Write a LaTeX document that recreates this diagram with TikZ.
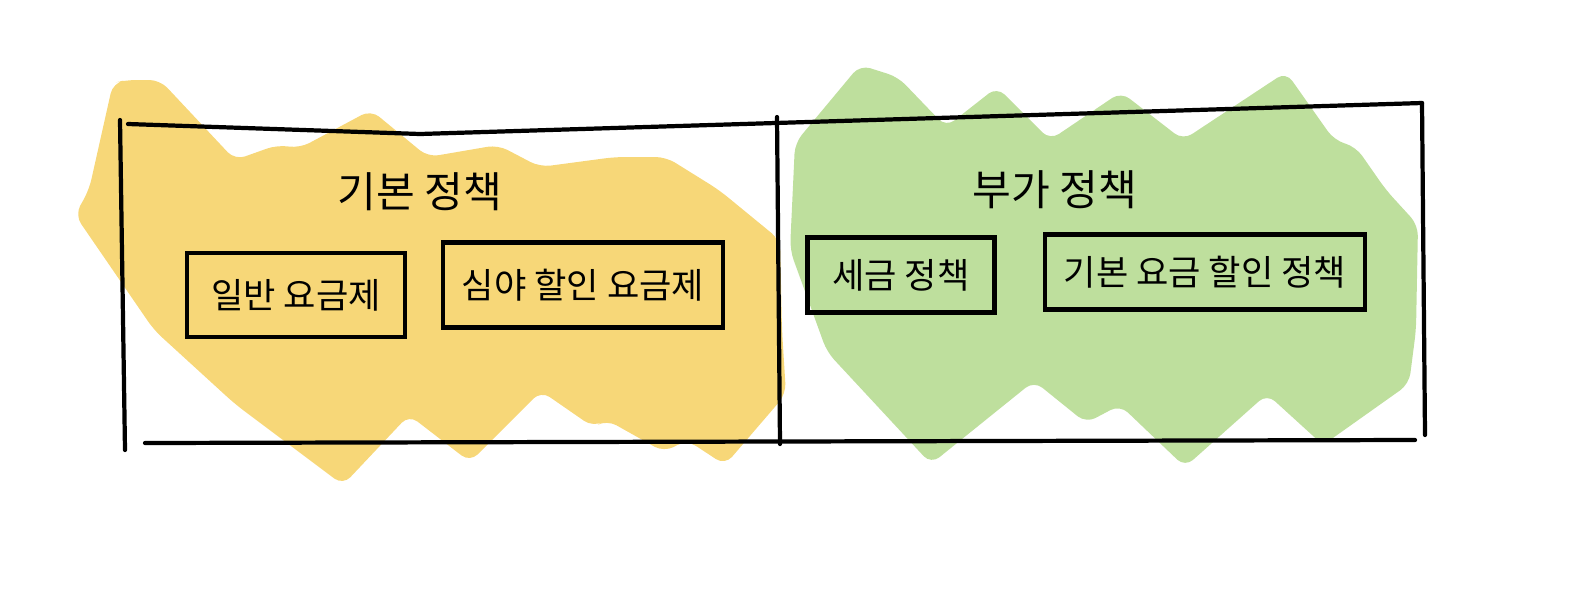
\documentclass[tikz,border=0pt]{standalone}
\usepackage{fontspec}
\newfontfamily\kofont{Noto Sans CJK KR}
\usetikzlibrary{positioning}
\definecolor{basicyellow}{HTML}{F6D46C}
\definecolor{extragreen}{HTML}{B9DC95}
\tikzset{%
    policy/.style={draw=black,line width=2.4pt,inner xsep=4pt,minimum height=15mm,font=\kofont\fontsize{20}{24}\selectfont},
    title/.style={font=\kofont\fontsize{24}{28}\selectfont},
    frame/.style={line width=2.4pt,line cap=round,line join=round}
}

\begin{document}
\begin{tikzpicture}[x=0.2mm,y=-0.2mm]
        \useasboundingbox (0,0) rectangle (1581,595);

        % brush blobs
        \fill[basicyellow,opacity=0.92,rounded corners=6pt]
            (89,190) -- (113,83) -- (126,80) -- (160,80) -- (235,160)
            -- (277,145) -- (300,148) -- (371,110) -- (428,157) -- (498,145)
            -- (540,167) -- (615,157) -- (666,157) -- (719,190) -- (780,240)
            -- (782,330) -- (786,394) -- (725,465) -- (687,440) -- (664,452)
            -- (607,420) -- (593,427) -- (541,391) -- (470,462) -- (409,415)
            -- (343,485) -- (235,404) -- (154,330) -- (75,215) -- cycle;
        \fill[extragreen,opacity=0.92,rounded corners=6pt]
            (795,143) -- (860,65) -- (898,77) -- (946,127) -- (997,87)
            -- (1050,140) -- (1121,92) -- (1183,140) -- (1286,72) -- (1334,140)
            -- (1356,147) -- (1386,190) -- (1418,225) -- (1416,330) -- (1409,384)
            -- (1323,445) -- (1267,394) -- (1185,467) -- (1120,405) -- (1086,423)
            -- (1034,381) -- (931,464) -- (827,352) -- (790,250) -- cycle;

        % frame
        \coordinate (tl) at (128,124);
        \coordinate (tm) at (420,134);
        \coordinate (tr) at (1422,103);
        \coordinate (ul) at (120,120);
        \coordinate (ll) at (125,450);
        \coordinate (bl) at (145,443);
        \coordinate (br) at (1415,440);
        \coordinate (rt) at (1422,103);
        \coordinate (rb) at (1425,435);
        \coordinate (dt) at (777,117);
        \coordinate (db) at (780,444);

        \draw[frame] (tl) -- (tm) -- (tr);
        \draw[frame] (ul) -- (ll);
        \draw[frame] (bl) -- (br);
        \draw[frame] (rt) -- (rb);
        \draw[frame] (dt) -- (db);

        % basic side
        \node[title] (basic) at (420,192) {기본 정책};
        \node[policy,minimum width=43.6mm,minimum height=16.8mm] (normal) at (296,295) {일반 요금제};
        \node[policy,minimum width=56mm,minimum height=17mm] (night) at (583,285) {심야 할인 요금제};

        % extra side
        \node[title] (extra) at (1055,190) {부가 정책};
        \node[policy,minimum width=37.4mm] (tax) at (901,275) {세금 정책};
        \node[policy,minimum width=64mm] (rebate) at (1205,272) {기본 요금 할인 정책};
    \end{tikzpicture}
\end{document}
